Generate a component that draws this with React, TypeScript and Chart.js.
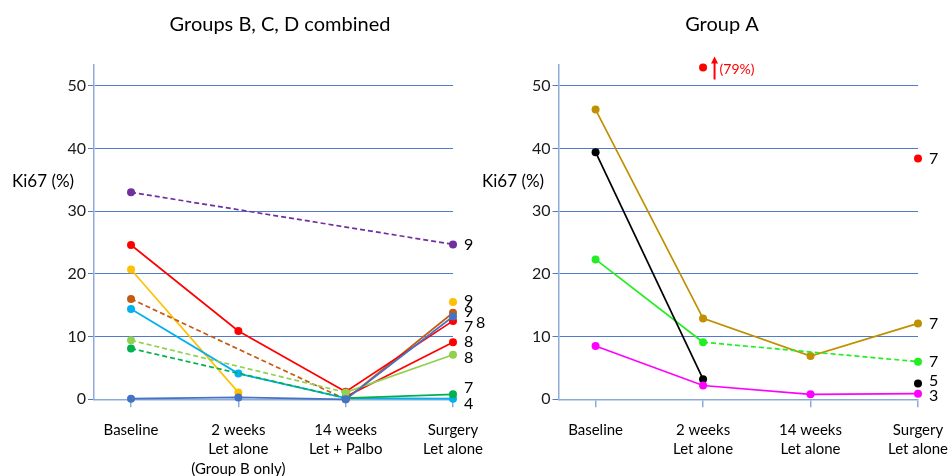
import React, { useEffect, useRef } from "react";
import { Chart, registerables } from "chart.js";
Chart.register(...registerables);

const FONT = 'Lato, "Liberation Sans", Arial, sans-serif';

// ---------- Data ----------
const categoriesBCD: string[][] = [
  ["Baseline"],
  ["2 weeks", "Let alone", "(Group B only)"],
  ["14 weeks", "Let + Palbo"],
  ["Surgery", "Let alone"],
];
const categoriesA: string[][] = [
  ["Baseline"],
  ["2 weeks", "Let alone"],
  ["14 weeks", "Let alone"],
  ["Surgery", "Let alone"],
];
const yTickValues = [0, 10, 20, 30, 40, 50];
const xTickValues = [0, 1, 2, 3];

// Groups B, C, D combined (Ki67 %)
const purpleBCD = [33.0, null, null, 24.7];
const redBCD1 = [24.6, 10.9, 1.2, 12.5];
const redBCD2 = [null, null, 0.4, 9.1];
const yellowBCD = [20.7, 1.1, null, 15.5];
const brownBCD = [16.0, null, 0.0, 13.8];
const cyanBCD = [14.4, 4.1, 0.2, 0.1];
const lightGreenBCD = [9.4, null, 1.1, 7.1];
const greenBCD = [8.1, null, 0.2, 0.8];
const blueBCD = [0.1, 0.3, 0.0, 13.2];
const endLabelsBCD = { purple: "9", red1: "7", red2: "8", yellow: "9", brown: "9", cyan: "4", lightGreen: "8", green: "7", blue: "8" };

// Group A (Ki67 %)
const goldA = [46.2, 12.9, 6.9, 12.1];
const blackA = [39.4, 3.2, null, 2.5];
const limeA = [22.3, 9.1, null, 6.0];
const magentaA = [8.5, 2.2, 0.8, 0.9];
const redA = [null, 52.9, null, 38.4];
const redAActualText = "(79%)";
const endLabelsA = { gold: "7", black: "5", lime: "7", magenta: "3", red: "7" };

// ---------- Styling ----------
const AXIS = "#8eaadb";
const GRID = "#4f7bc8";

type Series = {
  data: (number | null)[];
  color: string;
  end: string;
  span?: boolean;
  showLine?: boolean;
  hide?: number[];
  ldx?: number;
  ldy?: number;
};

const seriesBCD: Series[] = [
  { data: blueBCD, color: "#4472C4", end: endLabelsBCD.blue, ldx: 12, ldy: 6 },
  { data: lightGreenBCD, color: "#92D050", end: endLabelsBCD.lightGreen, span: true, ldy: 3 },
  { data: greenBCD, color: "#00B050", end: endLabelsBCD.green, span: true, ldy: -6 },
  { data: cyanBCD, color: "#00B0F0", end: endLabelsBCD.cyan, ldy: 5 },
  { data: redBCD2, color: "#FF0000", end: endLabelsBCD.red2, hide: [2] },
  { data: redBCD1, color: "#FF0000", end: endLabelsBCD.red1, ldy: 6 },
  { data: brownBCD, color: "#C55A11", end: endLabelsBCD.brown, span: true, ldy: -1 },
  { data: yellowBCD, color: "#FFC000", end: endLabelsBCD.yellow, ldy: -1 },
  { data: purpleBCD, color: "#7030A0", end: endLabelsBCD.purple, span: true },
];

const seriesA: Series[] = [
  { data: magentaA, color: "#FF00FF", end: endLabelsA.magenta, ldy: 2 },
  { data: blackA, color: "#000000", end: endLabelsA.black, ldy: -3 },
  { data: limeA, color: "#22EE22", end: endLabelsA.lime, span: true },
  { data: goldA, color: "#BF9000", end: endLabelsA.gold },
  { data: redA, color: "#FF0000", end: endLabelsA.red, showLine: false },
];

type Cfg = {
  title: string;
  titleX: number;
  yTitleX: number;
  categories: string[][];
  series: Series[];
  width: number;
  areaLeft: number;
  areaRight: number;
  arrow?: boolean;
};

const H = 476;
const AREA_TOP = 65;
const AREA_BOTTOM = 399.3;
const X_AXIS_H = 70;

function makeConfig(c: Cfg): any {
  const overlay = {
    id: "overlay",
    afterDraw(chart: any) {
      const ctx = chart.ctx;
      const xs = chart.scales.x;
      const ys = chart.scales.y;
      ctx.save();
      ctx.fillStyle = "#000";
      ctx.textBaseline = "middle";
      // title
      ctx.font = `20px ${FONT}`;
      ctx.textAlign = "center";
      ctx.fillText(c.title, c.titleX, 25);
      // category labels
      ctx.font = `15px ${FONT}`;
      c.categories.forEach((lines, i) => {
        const x = xs.getPixelForValue(xTickValues[i]);
        lines.forEach((ln, k) => ctx.fillText(ln, x, 430 + k * 19.5));
      });
      // y title
      ctx.font = `17px ${FONT}`;
      ctx.textAlign = "left";
      ctx.fillText("Ki67 (%)", c.yTitleX, 182);
      // end labels
      ctx.font = `16px ${FONT}`;
      c.series.forEach((s, i) => {
        const meta = chart.getDatasetMeta(i);
        let last = -1;
        s.data.forEach((v, j) => { if (v !== null) last = j; });
        if (last < 0) return;
        const pt = meta.data[last];
        ctx.fillText(s.end, pt.x + 11 + (s.ldx || 0), pt.y + (s.ldy || 0));
      });
      // arrow annotation for off-scale value
      if (c.arrow) {
        const px = xs.getPixelForValue(1);
        const py = ys.getPixelForValue(redA[1] as number);
        const ax = px + 11.5;
        ctx.strokeStyle = "#FF0000";
        ctx.fillStyle = "#FF0000";
        ctx.lineWidth = 2;
        ctx.beginPath();
        ctx.moveTo(ax, py + 12);
        ctx.lineTo(ax, py - 5);
        ctx.stroke();
        ctx.beginPath();
        ctx.moveTo(ax, py - 11);
        ctx.lineTo(ax - 3.5, py - 4);
        ctx.lineTo(ax + 3.5, py - 4);
        ctx.closePath();
        ctx.fill();
        ctx.font = `14px ${FONT}`;
        ctx.textAlign = "left";
        ctx.fillText(redAActualText, ax + 5, py + 1.5);
      }
      ctx.restore();
    },
  };

  const skipped = (ctx: any) => (ctx.p0.skip || ctx.p1.skip ? [5, 3] : undefined);

  return {
    type: "line",
    data: {
      datasets: c.series.map((s) => ({
        data: s.data.map((v, i) => ({ x: xTickValues[i], y: v })),
        borderColor: s.color,
        backgroundColor: s.color,
        pointBackgroundColor: s.color,
        pointBorderColor: s.color,
        pointBorderWidth: 0,
        pointRadius: s.data.map((_, i) => (s.hide && s.hide.includes(i) ? 0 : 4)),
        pointHoverRadius: 4,
        borderWidth: 1.7,
        showLine: s.showLine !== false,
        spanGaps: !!s.span,
        tension: 0,
        clip: false,
        segment: { borderDash: skipped },
      })),
    },
    options: {
      responsive: false,
      animation: false,
      devicePixelRatio: 1,
      events: [],
      layout: {
        autoPadding: false,
        padding: {
          top: AREA_TOP,
          left: 0,
          right: c.width - c.areaRight,
          bottom: H - X_AXIS_H - AREA_BOTTOM,
        },
      },
      plugins: {
        legend: { display: false },
        tooltip: { enabled: false },
        title: { display: false },
      },
      scales: {
        x: {
          type: "linear",
          min: -0.345,
          max: 3,
          afterBuildTicks: (axis: any) => {
            axis.ticks = xTickValues.map((v) => ({ value: v }));
          },
          afterFit: (scale: any) => {
            scale.height = X_AXIS_H;
            scale.paddingLeft = 0;
            scale.paddingRight = 0;
          },
          ticks: { display: false },
          grid: {
            drawOnChartArea: false,
            drawTicks: true,
            tickLength: 8,
            color: AXIS,
            lineWidth: 1.5,
          },
          border: { color: AXIS, width: 1.5 },
        },
        y: {
          type: "linear",
          min: 0,
          max: 53.3,
          afterBuildTicks: (axis: any) => {
            axis.ticks = yTickValues.map((v) => ({ value: v }));
          },
          afterFit: (scale: any) => {
            scale.width = c.areaLeft;
            scale.paddingTop = 0;
            scale.paddingBottom = 0;
          },
          ticks: {
            font: { family: FONT, size: 16 },
            color: "#1a1a1a",
            padding: 2,
          },
          grid: {
            color: GRID,
            lineWidth: 1,
            tickLength: 6,
            drawTicks: true,
          },
          border: { color: AXIS, width: 1.5 },
        },
      },
    },
    plugins: [overlay],
  };
}

const LEFT_W = 500;
const RIGHT_W = 476;

export default function App() {
  const leftRef = useRef<HTMLCanvasElement>(null);
  const rightRef = useRef<HTMLCanvasElement>(null);

  useEffect(() => {
    document.body.style.margin = "0";
    const c1 = new Chart(
      leftRef.current as HTMLCanvasElement,
      makeConfig({
        title: "Groups B, C, D combined",
        titleX: 280,
        yTitleX: 12,
        categories: categoriesBCD,
        series: seriesBCD,
        width: LEFT_W,
        areaLeft: 94,
        areaRight: 453,
      })
    );
    const c2 = new Chart(
      rightRef.current as HTMLCanvasElement,
      makeConfig({
        title: "Group A",
        titleX: 246,
        yTitleX: 6,
        categories: categoriesA,
        series: seriesA,
        width: RIGHT_W,
        areaLeft: 82.5,
        areaRight: 442,
        arrow: true,
      })
    );
    return () => {
      c1.destroy();
      c2.destroy();
    };
  }, []);

  return (
    <div style={{ position: "absolute", left: 0, top: 0, width: 952, height: 476, background: "#fff", overflow: "hidden" }}>
      <canvas
        ref={leftRef}
        width={LEFT_W}
        height={H}
        style={{ position: "absolute", left: 0, top: 0, width: LEFT_W, height: H }}
      />
      <canvas
        ref={rightRef}
        width={RIGHT_W}
        height={H}
        style={{ position: "absolute", left: 476, top: 0, width: RIGHT_W, height: H }}
      />
    </div>
  );
}
